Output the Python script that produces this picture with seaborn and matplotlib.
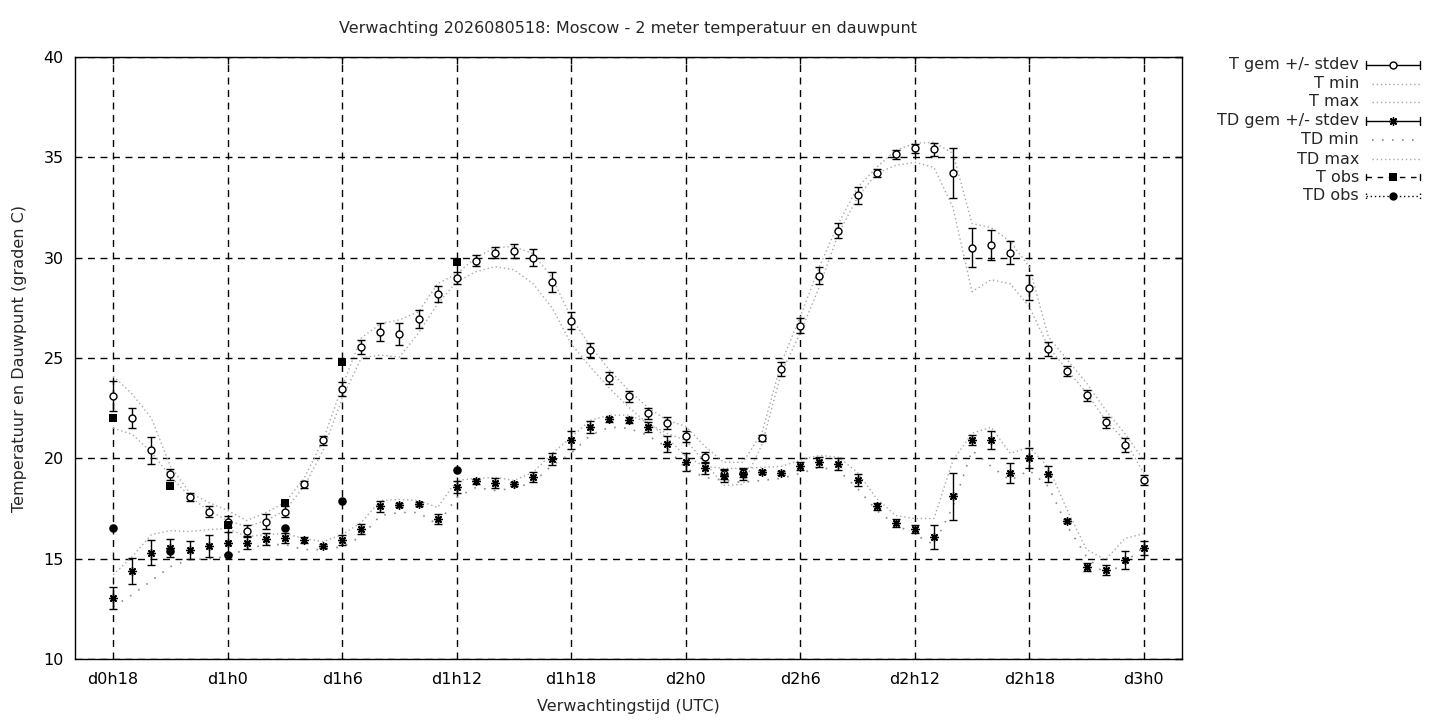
import matplotlib
matplotlib.use("Agg")
import matplotlib.pyplot as plt
from matplotlib.lines import Line2D
import pandas as pd
import seaborn as sns

# forecast hours (d0h18 .. d3h0)
hours = list(range(18, 73))

t_mean = [23.1, 22.0, 20.4, 19.2, 18.05, 17.35, 16.85, 16.4, 16.85, 17.35,
          18.7, 20.9, 23.45, 25.55, 26.3, 26.2, 26.95, 28.2, 29.0, 29.85,
          30.25, 30.35, 30.0, 28.8, 26.85, 25.4, 24.0, 23.1, 22.25, 21.75,
          21.1, 20.05, 19.2, 19.25, 21.0, 24.45, 26.6, 29.1, 31.35, 33.1,
          34.2, 35.15, 35.45, 35.4, 34.2, 30.5, 30.65, 30.25, 28.5, 25.45,
          24.35, 23.15, 21.8, 20.65, 18.9]
t_std = [0.75, 0.5, 0.66, 0.29, 0.2, 0.29, 0.27, 0.28, 0.37, 0.27,
         0.17, 0.22, 0.36, 0.35, 0.44, 0.54, 0.45, 0.39, 0.29, 0.29,
         0.27, 0.35, 0.42, 0.5, 0.42, 0.35, 0.31, 0.27, 0.28, 0.3,
         0.27, 0.29, 0.25, 0.2, 0.15, 0.36, 0.37, 0.41, 0.39, 0.41,
         0.2, 0.22, 0.23, 0.32, 1.25, 0.97, 0.75, 0.58, 0.62, 0.36,
         0.27, 0.28, 0.27, 0.35, 0.25]
t_min = [21.5, 21.2, 20.3, 19.1, 18.1, 17.4, 16.9, 16.6, 16.9, 17.4,
         18.6, 20.4, 23.0, 25.0, 25.15, 25.05, 26.25, 27.7, 28.8, 29.3,
         29.55, 29.4, 28.7, 27.5, 25.7, 24.55, 23.5, 22.55, 21.75, 21.25,
         20.9, 19.8, 18.65, 18.7, 20.7, 24.25, 26.25, 28.55, 31.2, 33.0,
         34.2, 34.6, 34.75, 34.5, 32.5, 28.3, 28.9, 28.7, 27.55, 25.55,
         24.4, 23.25, 21.9, 20.9, 19.25]
t_max = [24.1, 23.2, 22.0, 19.6, 18.3, 17.8, 17.4, 16.9, 17.3, 17.8,
         19.0, 20.9, 23.6, 26.0, 26.7, 26.9, 27.3, 28.7, 29.2, 30.0,
         30.5, 30.55, 30.2, 29.0, 27.0, 25.6, 24.4, 23.4, 22.55, 21.9,
         21.6, 20.6, 19.8, 19.8, 21.3, 24.75, 27.05, 29.55, 31.7, 33.5,
         34.5, 35.35, 35.7, 35.75, 35.2, 31.7, 31.5, 30.8, 29.55, 26.05,
         24.9, 23.75, 22.4, 21.25, 19.9]

td_mean = [13.05, 14.4, 15.3, 15.55, 15.45, 15.65, 15.8, 15.8, 16.0, 16.05,
           15.95, 15.65, 15.95, 16.5, 17.6, 17.65, 17.7, 17.0, 18.55, 18.85,
           18.75, 18.7, 19.05, 19.95, 20.9, 21.55, 21.95, 21.9, 21.55, 20.7,
           19.8, 19.5, 19.1, 19.2, 19.3, 19.25, 19.6, 19.8, 19.7, 18.9,
           17.6, 16.8, 16.5, 16.1, 18.1, 20.9, 20.9, 19.25, 20.0, 19.2,
           16.9, 14.6, 14.45, 14.95, 15.55]
td_std = [0.55, 0.65, 0.63, 0.45, 0.45, 0.55, 0.55, 0.3, 0.3, 0.25,
          0.15, 0.1, 0.25, 0.25, 0.25, 0.1, 0.1, 0.25, 0.3, 0.12,
          0.25, 0.1, 0.25, 0.3, 0.45, 0.3, 0.12, 0.15, 0.25, 0.4,
          0.45, 0.3, 0.3, 0.3, 0.1, 0.1, 0.2, 0.25, 0.3, 0.3,
          0.15, 0.2, 0.2, 0.6, 1.15, 0.25, 0.45, 0.5, 0.5, 0.4,
          0.1, 0.2, 0.25, 0.45, 0.35]
td_min = [12.6, 13.2, 13.9, 14.6, 14.95, 15.0, 15.1, 15.5, 15.7, 15.7,
          15.45, 15.45, 15.6, 16.1, 17.15, 17.3, 17.3, 16.7, 18.05, 18.55,
          18.4, 18.5, 18.8, 19.65, 20.25, 21.15, 21.55, 21.5, 21.15, 20.55,
          19.5, 19.05, 18.9, 18.8, 18.9, 19.0, 19.25, 19.55, 19.4, 18.5,
          17.4, 16.7, 16.2, 15.7, 17.6, 20.4, 19.6, 18.9, 19.4, 18.6,
          16.6, 15.1, 14.2, 14.8, 15.6]
td_max = [14.2, 15.1, 16.2, 16.4, 16.35, 16.45, 16.5, 16.1, 16.2, 16.25,
          16.0, 15.85, 16.2, 16.8, 17.9, 17.95, 17.9, 17.55, 18.9, 19.0,
          19.05, 18.9, 19.3, 20.25, 21.05, 21.9, 22.15, 22.15, 21.8, 21.05,
          20.1, 19.6, 19.5, 19.5, 19.55, 19.6, 19.9, 20.15, 20.05, 19.3,
          18.0, 17.15, 17.0, 17.0, 19.9, 21.25, 21.55, 20.25, 20.55, 19.55,
          17.4, 15.45, 14.95, 16.0, 16.25]

obs_hours = [18, 21, 24, 27, 30, 36]
t_obs = [22.0, 18.6, 16.7, 17.75, 24.8, 29.8]
td_obs = [16.55, 15.4, 15.2, 16.55, 17.85, 19.4]

tick_hours = [18, 24, 30, 36, 42, 48, 54, 60, 66, 72]
tick_labels = ["d0h18", "d1h0", "d1h6", "d1h12", "d1h18",
               "d2h0", "d2h6", "d2h12", "d2h18", "d3h0"]
y_ticks = [10, 15, 20, 25, 30, 35, 40]

title = "Verwachting 2026080518: Moscow - 2 meter temperatuur en dauwpunt"

df = pd.DataFrame({"uur": hours, "t_min": t_min, "t_max": t_max,
                   "td_min": td_min, "td_max": td_max})

sns.set_style("white")
plt.rcParams["font.family"] = ["DejaVu Sans"]
plt.rcParams["font.size"] = 11.5

W, H = 1440, 720
fig = plt.figure(figsize=(14.4, 7.2), dpi=100)
ax = fig.add_axes([75 / W, 61 / H, 1107 / W, 602 / H])

grey_t = "#a8a8a8"
grey_td = "#8c8c8c"
fine_dot = (0, (1, 2))
coarse_dot = (0, (1, 5))

# T gem +/- stdev
ax.errorbar(hours, t_mean, yerr=t_std, fmt="o", ms=5, mfc="white", mec="black",
            mew=1, ecolor="black", elinewidth=1, capsize=3.2, capthick=1, zorder=4)
sns.lineplot(data=df, x="uur", y="t_min", ax=ax, color=grey_t, lw=1, linestyle=fine_dot, zorder=3)
sns.lineplot(data=df, x="uur", y="t_max", ax=ax, color=grey_t, lw=1, linestyle=fine_dot, zorder=3)

# TD gem +/- stdev
ax.errorbar(hours, td_mean, yerr=td_std, fmt="none", ecolor="black",
            elinewidth=1, capsize=3.2, capthick=1, zorder=4)
ax.plot(hours, td_mean, linestyle="none", marker=(8, 2, 0), ms=6,
        mec="black", mew=1, zorder=5)
sns.lineplot(data=df, x="uur", y="td_min", ax=ax, color=grey_td, lw=1.2, linestyle=coarse_dot, zorder=3)
sns.lineplot(data=df, x="uur", y="td_max", ax=ax, color=grey_t, lw=1, linestyle=fine_dot, zorder=3)

# observations
sns.scatterplot(x=obs_hours, y=t_obs, ax=ax, marker="s", s=32, color="black",
                edgecolor="black", linewidth=0, zorder=6)
sns.scatterplot(x=obs_hours, y=td_obs, ax=ax, marker="o", s=38, color="black",
                edgecolor="black", linewidth=0, zorder=6)

ax.set_xlim(16, 74)
ax.set_ylim(10, 40)
ax.set_xticks(tick_hours)
ax.set_xticklabels(tick_labels)
ax.set_yticks(y_ticks)
ax.grid(True, color="black", linestyle=(0, (5, 4)), lw=1)
ax.set_axisbelow(True)
for s in ax.spines.values():
    s.set_color("black")
    s.set_linewidth(1)
ax.tick_params(direction="in", top=True, right=True, length=5, width=1,
               colors="black", labelsize=11.5)
ax.tick_params(axis="x", pad=9)
ax.tick_params(axis="y", pad=8)
ax.set_xlabel("Verwachtingstijd (UTC)", fontsize=11.5, labelpad=9)
ax.set_ylabel("Temperatuur en Dauwpunt (graden C)", fontsize=11.5, labelpad=12)
fig.text(628 / W, 1 - 28 / H, title, ha="center", va="center", fontsize=11.5)

# legend, drawn as in the gnuplot key
def fx(px):
    return px / W

def fy(py):
    return 1 - py / H

def seg(x0, x1, y0, y1, **kw):
    fig.add_artist(Line2D([fx(x0), fx(x1)], [fy(y0), fy(y1)],
                          transform=fig.transFigure, **kw))

labels = ["T gem +/- stdev", "T min", "T max", "TD gem +/- stdev",
          "TD min", "TD max", "T obs", "TD obs"]
rows = [65, 84, 102, 121, 140, 159, 177, 196]
lx0, lx1, lxm = 1366, 1420, 1393
for lab, ry in zip(labels, rows):
    fig.text(fx(1359), fy(ry), lab, ha="right", va="center", fontsize=11.5)

for i in (0, 3):
    ry = rows[i]
    seg(lx0, lx1, ry, ry, color="black", lw=1)
    seg(lx0, lx0, ry - 4, ry + 4, color="black", lw=1)
    seg(lx1, lx1, ry - 4, ry + 4, color="black", lw=1)
fig.add_artist(Line2D([fx(lxm)], [fy(rows[0])], transform=fig.transFigure,
                      marker="o", ms=5, mfc="white", mec="black", mew=1))
fig.add_artist(Line2D([fx(lxm)], [fy(rows[3])], transform=fig.transFigure,
                      marker=(8, 2, 0), ms=6, mec="black", mew=1))
seg(1372, lx1, rows[1], rows[1], color=grey_t, lw=1, linestyle=fine_dot)
seg(1372, lx1, rows[2], rows[2], color=grey_t, lw=1, linestyle=fine_dot)
seg(1372, lx1, rows[4], rows[4], color=grey_td, lw=1.2, linestyle=coarse_dot)
seg(1372, lx1, rows[5], rows[5], color=grey_t, lw=1, linestyle=fine_dot)
seg(lx0, lx1, rows[6], rows[6], color="black", lw=1, linestyle=(0, (4, 4)))
seg(lx0, lx0, rows[6] - 3, rows[6] + 3, color="black", lw=1)
seg(lx1, lx1, rows[6] - 3, rows[6] + 3, color="black", lw=1)
fig.add_artist(Line2D([fx(lxm)], [fy(rows[6])], transform=fig.transFigure,
                      marker="s", ms=5.5, color="black", mew=0))
seg(lx0, lx1, rows[7], rows[7], color="black", lw=1, linestyle=(0, (1, 2)))
seg(lx0, lx0, rows[7] - 3, rows[7] + 3, color="black", lw=1, linestyle=(0, (1, 2)))
seg(lx1, lx1, rows[7] - 3, rows[7] + 3, color="black", lw=1, linestyle=(0, (1, 2)))
fig.add_artist(Line2D([fx(lxm)], [fy(rows[7])], transform=fig.transFigure,
                      marker="o", ms=6, color="black", mew=0))

fig.savefig("out.png", dpi=100)
